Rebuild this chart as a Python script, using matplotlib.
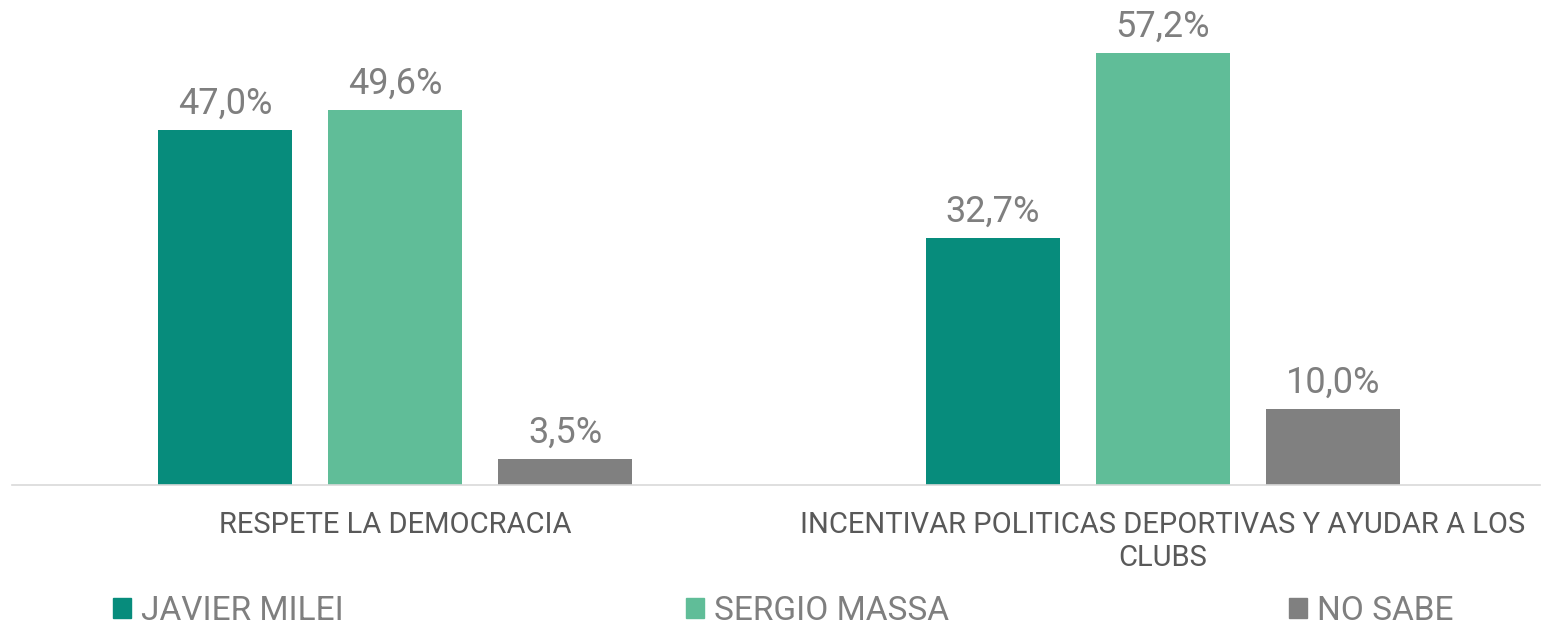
import numpy as np
import matplotlib.pyplot as plt
from matplotlib.patches import Patch

categorias = ["RESPETE LA DEMOCRACIA", "INCENTIVAR POLITICAS DEPORTIVAS Y AYUDAR A LOS\nCLUBS"]
series = ["JAVIER MILEI", "SERGIO MASSA", "NO SABE"]
milei = [47.0, 32.7]
massa = [49.6, 57.2]
no_sabe = [3.5, 10.0]
colores = ["#078C7C", "#60BD98", "#808080"]

plt.rcParams['font.family'] = ['Roboto', 'DejaVu Sans']

fig = plt.figure(figsize=(15.52, 6.25), dpi=100)
ax = fig.add_axes([12/1552, 1-485/625, 1528/1552, 475/625])

x = np.arange(len(categorias))
ancho = 0.175
paso = 0.2215
for i, (vals, nombre) in enumerate(zip([milei, massa, no_sabe], series)):
    barras = ax.bar(x + (i-1)*paso, vals, ancho, color=colores[i], label=nombre)
    etiquetas = [("%.1f%%" % v).replace(".", ",") for v in vals]
    ax.bar_label(barras, labels=etiquetas, padding=6, fontsize=26, color="#7F7F7F")

ax.set_xlim(-0.4987, 1.491)
ax.set_ylim(0, 62.9)
ax.set_yticks([])
ax.set_xticks(x)
ax.set_xticklabels(categorias, fontsize=21, color="#595959", linespacing=1.2)
ax.tick_params(axis="x", length=0, pad=19)
for s in ["top", "right", "left"]:
    ax.spines[s].set_visible(False)
ax.spines["bottom"].set_color("#D9D9D9")
ax.spines["bottom"].set_linewidth(1.2)

# leyenda: tres entradas separadas como en el original
pos_leyenda = [113, 686, 1289]
for nombre, color, px in zip(series, colores, pos_leyenda):
    fig.legend(handles=[Patch(color=color, label=nombre)], loc="center left",
               bbox_to_anchor=(px/1552, 1-611/625), frameon=False, fontsize=24,
               labelcolor="#7F7F7F", handlelength=0.55, handleheight=0.55,
               handletextpad=0.3, borderpad=0, borderaxespad=0)

fig.savefig("out.png", dpi=100)
